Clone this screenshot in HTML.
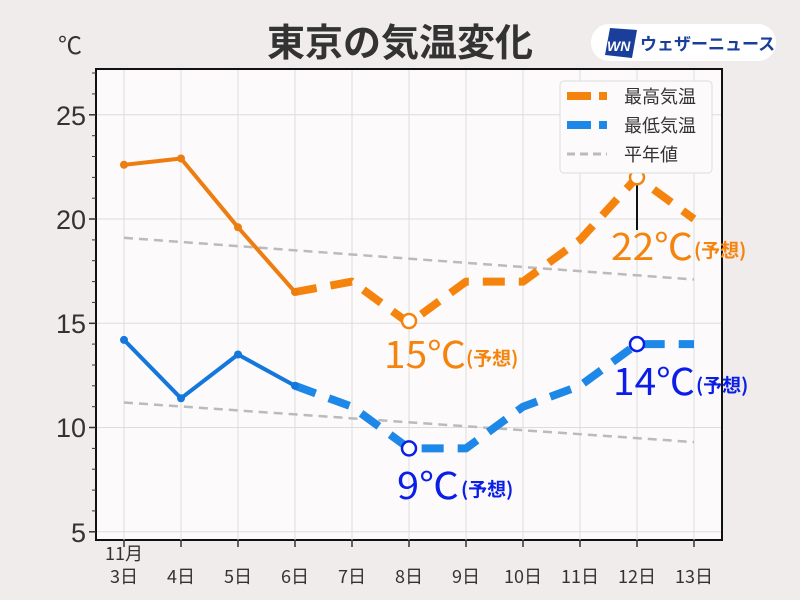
<!DOCTYPE html>
<html><head><meta charset="utf-8"><style>
body{margin:0;background:#efeceb;}
svg{display:block;font-family:"Liberation Sans","Noto Sans CJK JP",sans-serif;}
</style></head><body>
<svg width="800" height="600" viewBox="0 0 800 600">
<rect width="800" height="600" fill="#efeceb"/>
<text x="400" y="56" text-anchor="middle" font-size="38" font-weight="bold" fill="#333" font-family="Noto Sans CJK JP,sans-serif">東京の気温変化</text>
<rect x="591" y="24" width="185" height="37" rx="18" fill="#fff"/>
<polygon points="610,28 637,30 632,58 605,55" fill="#1a3f9a"/>
<text x="607" y="51" font-size="14" font-weight="bold" font-style="italic" fill="#fff">WN</text>
<text x="640" y="50" font-size="17" font-weight="bold" fill="#1a3f9a" font-family="Noto Sans CJK JP,sans-serif">ウェザーニュース</text>
<text x="58" y="54" font-size="24" fill="#333">℃</text>
<rect x="96" y="69" width="626" height="471" fill="#fcfafa" stroke="#111" stroke-width="2"/>
<g stroke="#ddd" stroke-width="1">
<line x1="124" y1="70" x2="124" y2="540"/><line x1="181" y1="70" x2="181" y2="540"/><line x1="238" y1="70" x2="238" y2="540"/><line x1="295" y1="70" x2="295" y2="540"/><line x1="352" y1="70" x2="352" y2="540"/><line x1="409" y1="70" x2="409" y2="540"/><line x1="466" y1="70" x2="466" y2="540"/><line x1="523" y1="70" x2="523" y2="540"/><line x1="580" y1="70" x2="580" y2="540"/><line x1="637" y1="70" x2="637" y2="540"/><line x1="694" y1="70" x2="694" y2="540"/>
<line x1="97" y1="114.8" x2="721" y2="114.8"/><line x1="97" y1="219" x2="721" y2="219"/><line x1="97" y1="323.3" x2="721" y2="323.3"/><line x1="97" y1="427.5" x2="721" y2="427.5"/><line x1="97" y1="531.8" x2="721" y2="531.8"/>
</g>
<g stroke="#333" stroke-width="1.5">
<line x1="89" y1="114.8" x2="96" y2="114.8"/><line x1="89" y1="219" x2="96" y2="219"/><line x1="89" y1="323.3" x2="96" y2="323.3"/><line x1="89" y1="427.5" x2="96" y2="427.5"/><line x1="89" y1="531.8" x2="96" y2="531.8"/>
<line x1="124" y1="540" x2="124" y2="547"/><line x1="181" y1="540" x2="181" y2="547"/><line x1="238" y1="540" x2="238" y2="547"/><line x1="295" y1="540" x2="295" y2="547"/><line x1="352" y1="540" x2="352" y2="547"/><line x1="409" y1="540" x2="409" y2="547"/><line x1="466" y1="540" x2="466" y2="547"/><line x1="523" y1="540" x2="523" y2="547"/><line x1="580" y1="540" x2="580" y2="547"/><line x1="637" y1="540" x2="637" y2="547"/><line x1="694" y1="540" x2="694" y2="547"/>
</g>
<g stroke="#333" stroke-width="1">
<line x1="92" y1="93.9" x2="96" y2="93.9"/><line x1="92" y1="135.7" x2="96" y2="135.7"/><line x1="92" y1="156.5" x2="96" y2="156.5"/><line x1="92" y1="177.4" x2="96" y2="177.4"/><line x1="92" y1="198.2" x2="96" y2="198.2"/>
<line x1="92" y1="239.9" x2="96" y2="239.9"/><line x1="92" y1="260.7" x2="96" y2="260.7"/><line x1="92" y1="281.6" x2="96" y2="281.6"/><line x1="92" y1="302.4" x2="96" y2="302.4"/>
<line x1="92" y1="344.1" x2="96" y2="344.1"/><line x1="92" y1="365" x2="96" y2="365"/><line x1="92" y1="385.8" x2="96" y2="385.8"/><line x1="92" y1="406.7" x2="96" y2="406.7"/>
<line x1="92" y1="448.4" x2="96" y2="448.4"/><line x1="92" y1="469.2" x2="96" y2="469.2"/><line x1="92" y1="490.1" x2="96" y2="490.1"/><line x1="92" y1="510.9" x2="96" y2="510.9"/>
<line x1="92" y1="73" x2="96" y2="73"/>
</g>
<g font-size="27" fill="#333" text-anchor="end">
<text x="86" y="125">25</text><text x="86" y="229">20</text><text x="86" y="333">15</text><text x="86" y="437">10</text><text x="86" y="542">5</text>
</g>
<g font-size="18" fill="#333" text-anchor="middle" font-family="Noto Sans CJK JP,sans-serif">
<text x="124" y="560">11月</text>
<text x="124" y="583">3日</text><text x="181" y="583">4日</text><text x="238" y="583">5日</text><text x="295" y="583">6日</text><text x="352" y="583">7日</text><text x="409" y="583">8日</text><text x="466" y="583">9日</text><text x="523" y="583">10日</text><text x="580" y="583">11日</text><text x="637" y="583">12日</text><text x="694" y="583">13日</text>
</g>
<g stroke="#bbb" stroke-width="2.5" stroke-dasharray="9,6" fill="none">
<line x1="124" y1="237.8" x2="694" y2="279.5"/>
<line x1="124" y1="402.5" x2="694" y2="442.1"/>
</g>
<g fill="none" stroke-linejoin="round">
<polyline points="124,164.8 181,158.5 238,227.3 295,292" stroke="#ee7d10" stroke-width="4"/>
<polyline points="295,292 352,281.6 409,323.3 466,281.6 523,281.6 580,239.9 637,177.3 694,219" stroke="#f5840f" stroke-width="8" stroke-dasharray="22,14"/>
<polyline points="124,339.9 181,398.3 238,354.5 295,385.8" stroke="#1477dc" stroke-width="4"/>
<polyline points="295,385.8 352,406.7 409,448.4 466,448.4 523,406.7 580,385.8 637,344.1 694,344.1" stroke="#1e88e8" stroke-width="8" stroke-dasharray="22,14"/>
</g>
<g fill="#ee7d10"><circle cx="124" cy="164.8" r="4"/><circle cx="181" cy="158.5" r="4"/><circle cx="238" cy="227.3" r="4"/><circle cx="295" cy="292" r="4"/></g>
<g fill="#1477dc"><circle cx="124" cy="339.9" r="4"/><circle cx="181" cy="398.3" r="4"/><circle cx="238" cy="354.5" r="4"/><circle cx="295" cy="385.8" r="4"/></g>
<line x1="637" y1="177" x2="637" y2="230" stroke="#111" stroke-width="2"/>
<circle cx="409" cy="321" r="7" fill="#fff" stroke="#f5840f" stroke-width="2.5"/>
<circle cx="637" cy="177.3" r="7" fill="#fff" stroke="#f5840f" stroke-width="2.5"/>
<circle cx="409" cy="448.4" r="7" fill="#fff" stroke="#0a1ee8" stroke-width="2.5"/>
<circle cx="637" cy="344.1" r="7" fill="#fff" stroke="#0a1ee8" stroke-width="2.5"/>
<g font-family="Noto Sans CJK JP,sans-serif">
<text x="384" y="368" font-size="37" fill="#f5840f" textLength="82" lengthAdjust="spacingAndGlyphs">15℃</text><text x="466" y="365" font-size="19" font-weight="bold" fill="#f5840f">(予想)</text>
<text x="611" y="260" font-size="37" fill="#f5840f" textLength="82" lengthAdjust="spacingAndGlyphs">22℃</text><text x="694" y="257" font-size="19" font-weight="bold" fill="#f5840f">(予想)</text>
<text x="397" y="499" font-size="37" fill="#0a1ee8" textLength="62" lengthAdjust="spacingAndGlyphs">9℃</text><text x="461" y="496" font-size="19" font-weight="bold" fill="#0a1ee8">(予想)</text>
<text x="613" y="395" font-size="37" fill="#0a1ee8" textLength="82" lengthAdjust="spacingAndGlyphs">14℃</text><text x="696" y="392" font-size="19" font-weight="bold" fill="#0a1ee8">(予想)</text>
</g>
<rect x="560" y="81" width="152" height="92" rx="4" fill="#fcfafa" stroke="#ddd"/>
<line x1="567" y1="96" x2="607" y2="96" stroke="#f5840f" stroke-width="8" stroke-dasharray="24,8"/>
<line x1="567" y1="125" x2="607" y2="125" stroke="#1e88e8" stroke-width="8" stroke-dasharray="24,8"/>
<line x1="567" y1="154" x2="607" y2="154" stroke="#bbb" stroke-width="3" stroke-dasharray="8,5"/>
<g font-size="18" fill="#333" font-family="Noto Sans CJK JP,sans-serif">
<text x="624" y="103">最高気温</text><text x="624" y="132">最低気温</text><text x="624" y="161">平年値</text>
</g>
</svg>
</body></html>
